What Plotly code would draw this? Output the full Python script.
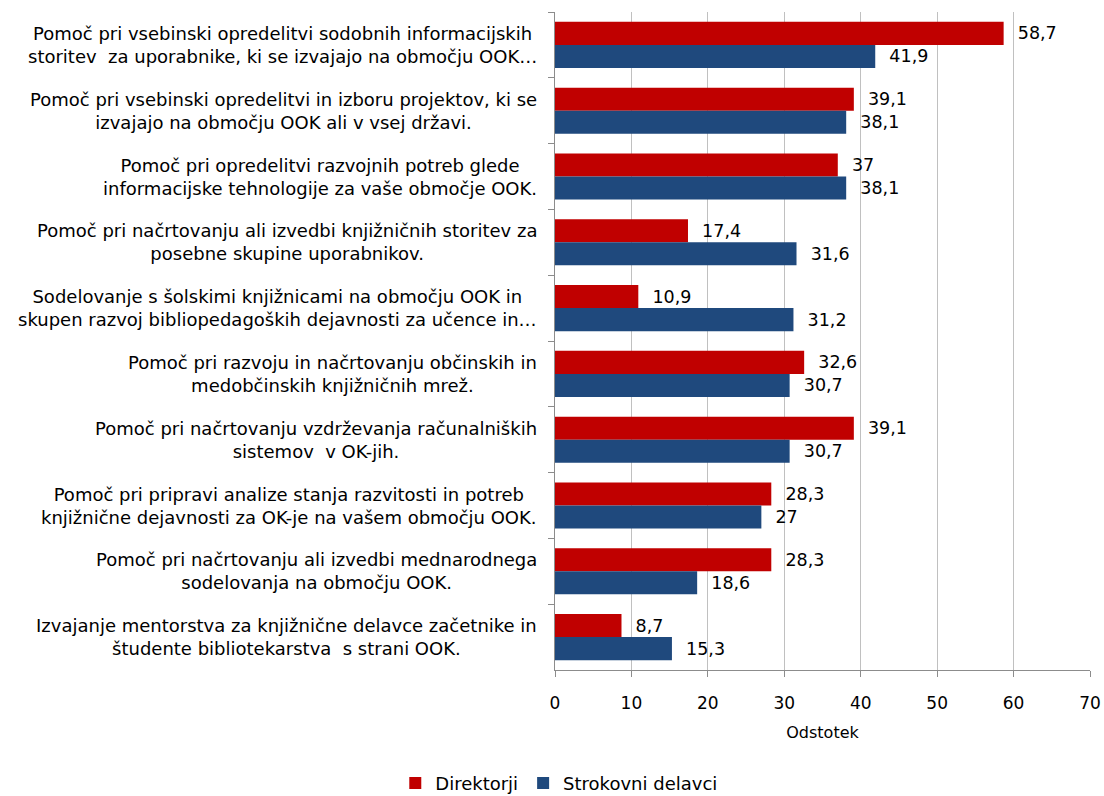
import plotly.graph_objects as go

categories = [
    "Pomoč pri vsebinski opredelitvi sodobnih informacijskih<br>storitev  za uporabnike, ki se izvajajo na območju OOK…",
    "Pomoč pri vsebinski opredelitvi in izboru projektov, ki se<br>izvajajo na območju OOK ali v vsej državi.",
    "Pomoč pri opredelitvi razvojnih potreb glede<br>informacijske tehnologije za vaše območje OOK.",
    "Pomoč pri načrtovanju ali izvedbi knjižničnih storitev za<br>posebne skupine uporabnikov.",
    "Sodelovanje s šolskimi knjižnicami na območju OOK in<br>skupen razvoj bibliopedagoških dejavnosti za učence in…",
    "Pomoč pri razvoju in načrtovanju občinskih in<br>medobčinskih knjižničnih mrež.",
    "Pomoč pri načrtovanju vzdrževanja računalniških<br>sistemov  v OK-jih.",
    "Pomoč pri pripravi analize stanja razvitosti in potreb<br>knjižnične dejavnosti za OK-je na vašem območju OOK.",
    "Pomoč pri načrtovanju ali izvedbi mednarodnega<br>sodelovanja na območju OOK.",
    "Izvajanje mentorstva za knjižnične delavce začetnike in<br>študente bibliotekarstva  s strani OOK.",
]
direktorji = [58.7, 39.1, 37, 17.4, 10.9, 32.6, 39.1, 28.3, 28.3, 8.7]
strokovni = [41.9, 38.1, 38.1, 31.6, 31.2, 30.7, 30.7, 27, 18.6, 15.3]
series_names = ["Direktorji", "Strokovni delavci"]
x_ticks = [0, 10, 20, 30, 40, 50, 60, 70]

FONT = "DejaVu Sans"

def fmt(v):
    return ("%g" % v).replace(".", ",")

fig = go.Figure()
for name, vals, col in [(series_names[0], direktorji, "#C00000"),
                        (series_names[1], strokovni, "#1F497D")]:
    fig.add_trace(go.Bar(
        y=categories, x=vals, name=name, orientation="h",
        marker=dict(color=col, line=dict(width=0)),
        text=["  " + fmt(v) for v in vals], textposition="outside",
        textfont=dict(family=FONT, size=17.5, color="#000000"),
        cliponaxis=False,
    ))

for c in categories:
    fig.add_annotation(
        x=0, xref="paper", y=c, yref="y", text=c, showarrow=False,
        xanchor="right", yanchor="middle", align="center", xshift=-16,
        font=dict(family=FONT, size=18, color="#000000"),
    )

fig.update_layout(
    width=1104, height=796,
    margin=dict(l=555, r=14, t=12, b=126, autoexpand=False),
    paper_bgcolor="white", plot_bgcolor="white",
    barmode="group", bargap=0.3, bargroupgap=0,
    font=dict(family=FONT, size=16, color="#000000"),
    showlegend=True,
    legend=dict(orientation="h", x=0.008, xanchor="center", y=-0.172, yanchor="middle",
                font=dict(family=FONT, size=18), traceorder="normal",
                itemwidth=30, tracegroupgap=0),
)
fig.update_xaxes(
    range=[0, 70], tickvals=x_ticks, ticktext=[str(t) for t in x_ticks],
    showgrid=True, gridcolor="#C0C0C0", gridwidth=1,
    showline=True, linecolor="#8C8C8C", linewidth=1,
    ticks="outside", ticklen=6, tickcolor="#8C8C8C",
    ticklabelstandoff=12,
    tickfont=dict(family=FONT, size=17),
    title=dict(text="Odstotek", font=dict(family=FONT, size=16), standoff=14),
    zeroline=False,
)
fig.update_yaxes(
    autorange="reversed", type="category",
    showticklabels=False, showline=True, linecolor="#8C8C8C", linewidth=1,
    ticks="outside", ticklen=6, tickcolor="#8C8C8C", tickson="boundaries",
    showgrid=False,
)

fig.write_html("out.html", config={"displayModeBar": False},
               post_script="document.body.style.margin='0';")
